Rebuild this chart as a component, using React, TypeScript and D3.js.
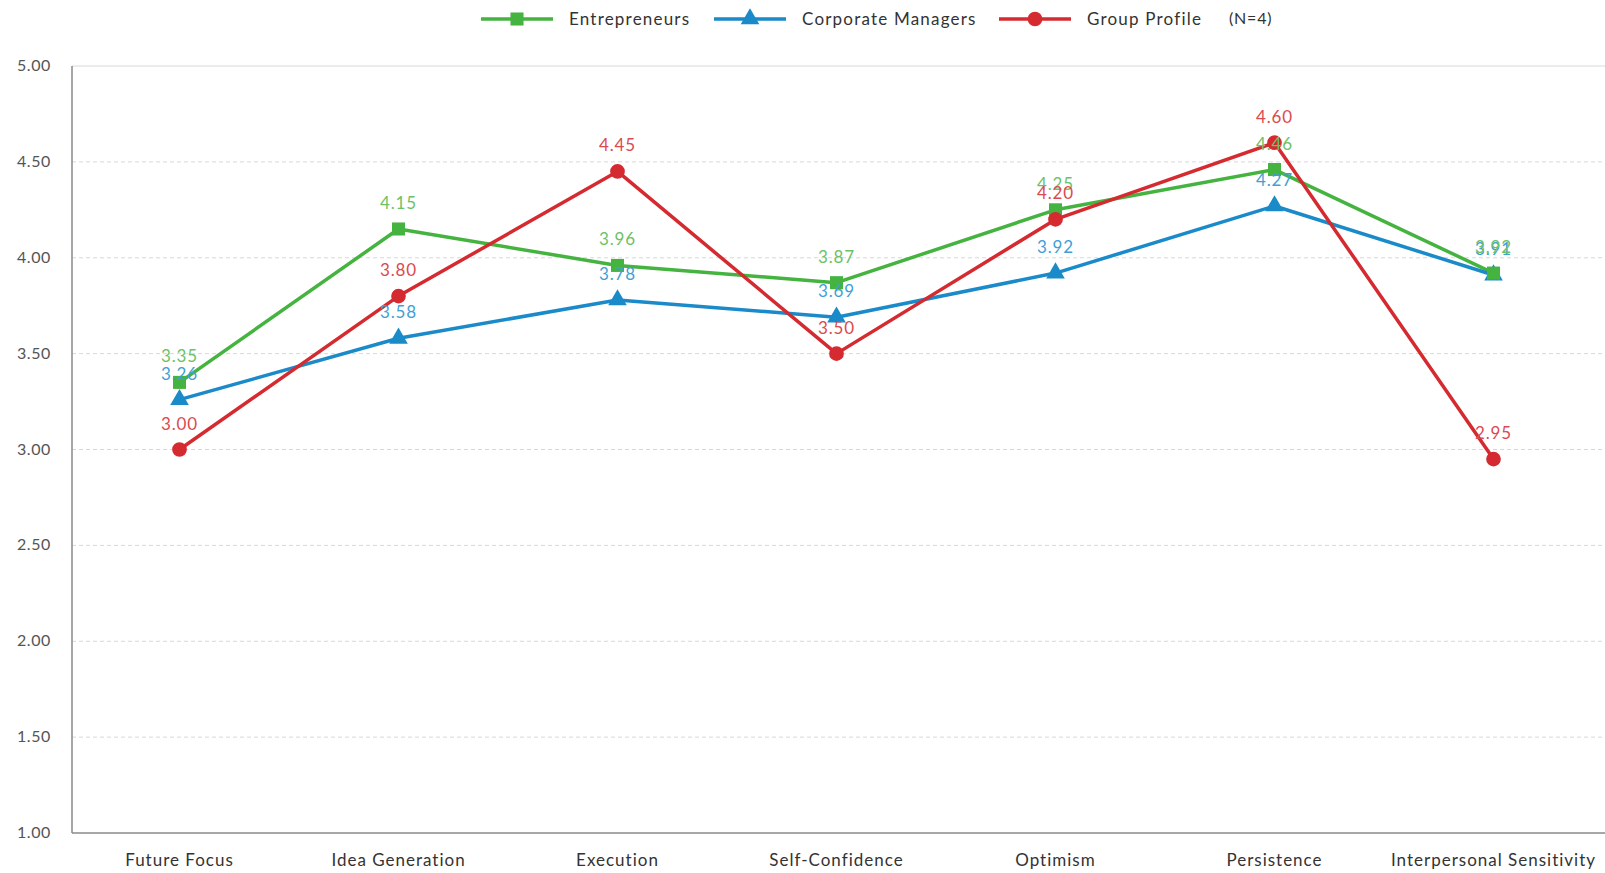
import React, { useEffect, useRef } from 'react';
import * as d3 from 'd3';

const categories = ['Future Focus', 'Idea Generation', 'Execution', 'Self-Confidence', 'Optimism', 'Persistence', 'Interpersonal Sensitivity'];
const entrepreneurs = [3.35, 4.15, 3.96, 3.87, 4.25, 4.46, 3.92];
const managers = [3.26, 3.58, 3.78, 3.69, 3.92, 4.27, 3.91];
const groupProfile = [3.0, 3.8, 4.45, 3.5, 4.2, 4.6, 2.95];
const yTicks = [1, 1.5, 2, 2.5, 3, 3.5, 4, 4.5, 5];

const series = [
  { name: 'Entrepreneurs', values: entrepreneurs, color: '#45b33f', label: '#6cc266', symbol: d3.symbolSquare, size: 170 },
  { name: 'Corporate Managers', values: managers, color: '#1a8ac9', label: '#3f9fd6', symbol: d3.symbolTriangle, size: 150 },
  { name: 'Group Profile', values: groupProfile, color: '#d42a30', label: '#dc4a50', symbol: d3.symbolCircle, size: 170 },
];
// draw order for markers and labels (blue under green)
const markerOrder = [1, 0, 2];

function App() {
  const svgRef = useRef<SVGSVGElement>(null);
  const width = 1605;
  const height = 873;

  useEffect(() => {
    const svg = d3.select(svgRef.current);
    svg.selectAll('*').remove();
    const font = 'Lato, "Open Sans", sans-serif';

    const margin = { top: 66, right: 0, bottom: 40, left: 72 };
    const x = d3.scaleBand().domain(categories).range([margin.left, width - margin.right]);
    const y = d3.scaleLinear().domain([1, 5]).range([height - margin.bottom, margin.top]);

    // grid
    svg.append('g')
      .selectAll('line')
      .data(yTicks.filter(t => t > 1))
      .enter()
      .append('line')
      .attr('x1', margin.left)
      .attr('x2', width)
      .attr('y1', d => y(d))
      .attr('y2', d => y(d))
      .attr('stroke', '#d8d8d8')
      .attr('stroke-width', 1)
      .attr('stroke-dasharray', d => (d === 5 ? null : '4,3'));

    // axes lines
    svg.append('line')
      .attr('x1', margin.left).attr('x2', margin.left)
      .attr('y1', y(5)).attr('y2', y(1))
      .attr('stroke', '#8a8a8a').attr('stroke-width', 1.5);
    svg.append('line')
      .attr('x1', margin.left).attr('x2', width)
      .attr('y1', y(1)).attr('y2', y(1))
      .attr('stroke', '#8a8a8a').attr('stroke-width', 1.5);

    // y tick labels
    svg.append('g')
      .selectAll('text')
      .data(yTicks)
      .enter()
      .append('text')
      .attr('x', 51)
      .attr('y', d => y(d) + 5)
      .attr('text-anchor', 'end')
      .style('font-family', font)
      .style('font-size', '16px')
      .style('letter-spacing', '0.6px')
      .attr('fill', '#555')
      .text(d => d.toFixed(2));

    // x labels
    svg.append('g')
      .selectAll('text')
      .data(categories)
      .enter()
      .append('text')
      .attr('x', d => (x(d) as number) + x.bandwidth() / 2 - 2)
      .attr('y', 866)
      .attr('text-anchor', 'middle')
      .style('font-family', font)
      .style('font-size', '17px')
      .style('letter-spacing', '1px')
      .attr('fill', '#333')
      .text(d => d);

    const cx = (i: number) => (x(categories[i]) as number) + x.bandwidth() / 2 - 2;

    series.forEach(s => {
      const line = d3.line<number>().x((_, i) => cx(i)).y(d => y(d));
      svg.append('path')
        .datum(s.values)
        .attr('d', line)
        .attr('fill', 'none')
        .attr('stroke', s.color)
        .attr('stroke-width', 3.5)
        .attr('stroke-linejoin', 'round');
    });

    markerOrder.forEach(k => {
      const s = series[k];
      svg.append('g')
        .selectAll('path')
        .data(s.values)
        .enter()
        .append('path')
        .attr('d', d3.symbol().type(s.symbol).size(s.size))
        .attr('transform', (d, i) => `translate(${cx(i)},${y(d)})`)
        .attr('fill', s.color);
    });

    markerOrder.forEach(k => {
      const s = series[k];
      svg.append('g')
        .selectAll('text')
        .data(s.values)
        .enter()
        .append('text')
        .attr('x', (_, i) => cx(i))
        .attr('y', d => y(d) - 20)
        .attr('text-anchor', 'middle')
        .style('font-family', font)
        .style('font-size', '17px')
        .style('letter-spacing', '0.8px')
        .attr('fill', s.label)
        .text(d => d.toFixed(2));
    });

    // legend
    const legendX = [481, 714, 999];
    series.forEach((s, i) => {
      const g = svg.append('g').attr('transform', `translate(${legendX[i]},19)`);
      g.append('line').attr('x1', 0).attr('x2', 72).attr('y1', 0).attr('y2', 0)
        .attr('stroke', s.color).attr('stroke-width', 3.5);
      g.append('path').attr('d', d3.symbol().type(s.symbol).size(s.size)).attr('transform', 'translate(36,0)').attr('fill', s.color);
      g.append('text').attr('x', 88).attr('y', 6)
        .style('font-family', font).style('font-size', '17px').style('letter-spacing', '1.2px')
        .attr('fill', '#333').text(s.name);
    });
    svg.append('text').attr('x', 1229).attr('y', 24)
      .style('font-family', font).style('font-size', '16px').style('letter-spacing', '0.8px')
      .attr('fill', '#333').text('(N=4)');
  }, []);

  return (
    <svg ref={svgRef} width={width} height={height} style={{ position: 'absolute', left: 0, top: 0, background: '#fff' }}></svg>
  );
}

export default App;
